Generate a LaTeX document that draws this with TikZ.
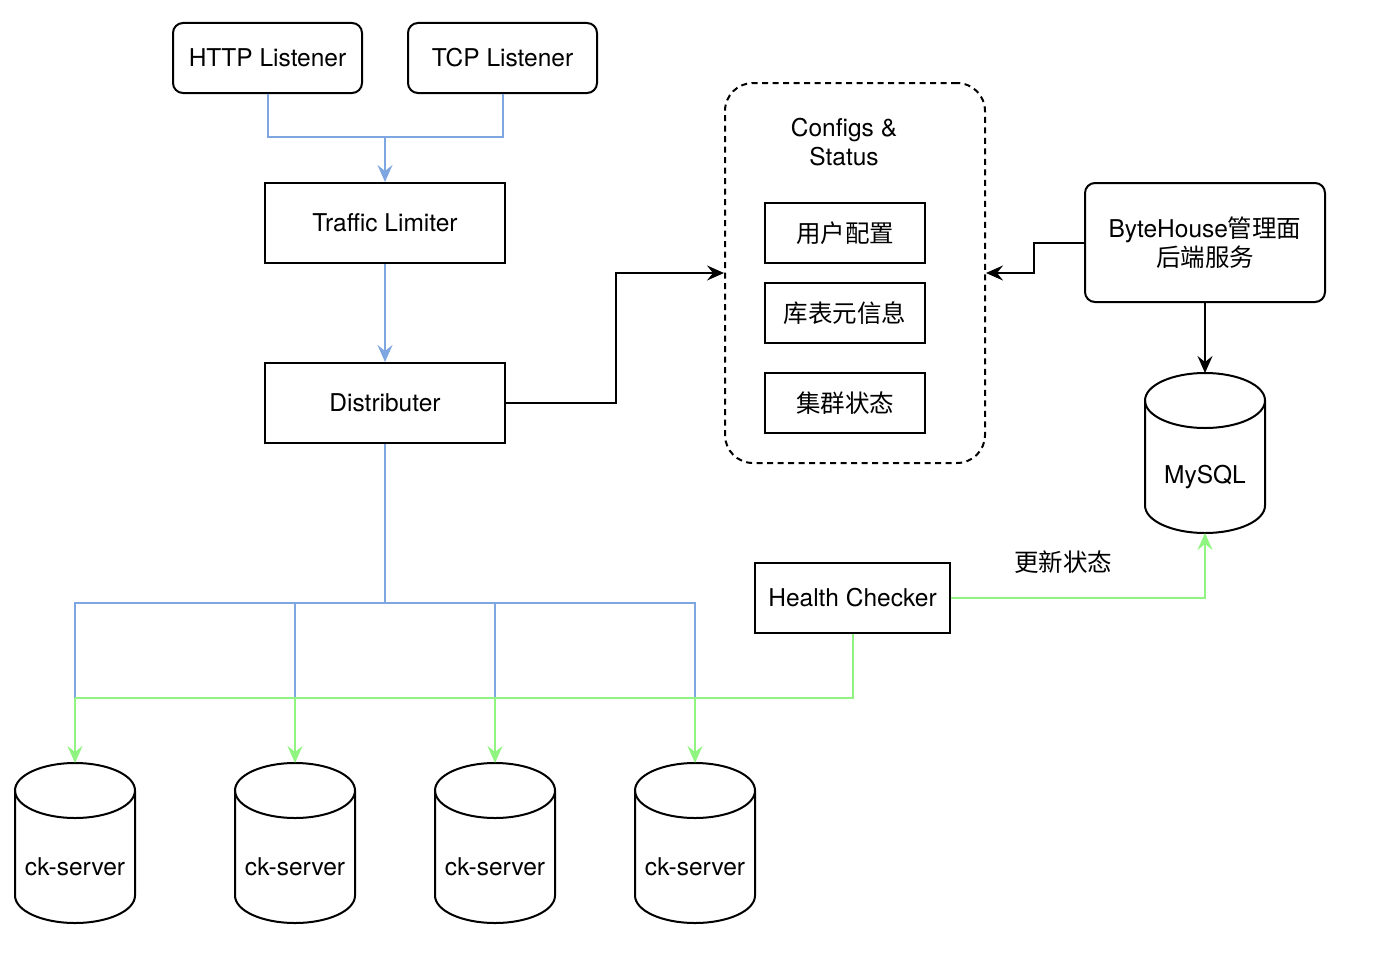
\documentclass[tikz,border=0pt]{standalone}
\usepackage{fontspec}
\setmainfont{TeX Gyre Heros}
\newfontfamily\cjk{Noto Sans CJK SC}
\usetikzlibrary{arrows.meta,calc}
\definecolor{blueline}{HTML}{7EA6E0}
\definecolor{greenline}{RGB}{144,245,128}
\begin{document}
\begin{tikzpicture}[x=1pt,y=-1pt,
  every node/.style={font=\fontsize{24.5}{29}\selectfont, align=center, inner sep=0pt},
  box/.style={draw, line width=2pt, minimum width=240pt, minimum height=80pt},
  rbox/.style={box, rounded corners=10pt},
  cbox/.style={draw, line width=2pt, minimum width=160pt, minimum height=60pt},
  tip/.style={-{Stealth[length=17pt,width=15pt,inset=6pt]}},
  bl/.style={draw=blueline, line width=2pt},
  gr/.style={draw=greenline, line width=2pt},
  bk/.style={draw=black, line width=2pt},
  db/.pic={
    \draw[line width=2pt] (0,-52.5) ellipse [x radius=60, y radius=27.5];
    \draw[line width=2pt] (-60,-52.5) -- (-60,52.5) .. controls (-60,67.7) and (-33.1,80) .. (0,80)
       .. controls (33.1,80) and (60,67.7) .. (60,52.5) -- (60,-52.5);
    \node (-lbl) at (0,24) {#1};
    \coordinate (-top) at (0,-80);
    \coordinate (-bot) at (0,80);
  }]
\useasboundingbox (0,0) rectangle (1388,974);

% top listeners
\node[rbox, minimum width=189pt, minimum height=70pt] (http) at (267.5,58) {HTTP Listener};
\node[rbox, minimum width=189pt, minimum height=70pt] (tcp) at (502.5,58) {TCP Listener};
\node[box] (tl) at (385,223) {Traffic Limiter};
\node[box] (dist) at (385,403) {Distributer};

% configs
\node[draw, line width=2pt, dash pattern=on 6pt off 4.5pt, rounded corners=28pt,
      minimum width=260pt, minimum height=380pt] (cfg) at (855,273) {};
\node (cfgt) at (844,142) {Configs \&\\Status};
\node[cbox] (uc) at (845,233) {\cjk 用户配置};
\node[cbox] (kb) at (845,313) {\cjk 库表元信息};
\node[cbox] (jq) at (845,403) {\cjk 集群状态};

% ByteHouse backend
\node[rbox, minimum height=119pt] (bh) at (1205,242.5) {ByteHouse{\cjk 管理面}\\{\cjk 后端服务}};

% databases
\pic (mysql) at (1205,453) {db={MySQL}};
\pic (ck1) at (75,843) {db={ck-server}};
\pic (ck2) at (295,843) {db={ck-server}};
\pic (ck3) at (495,843) {db={ck-server}};
\pic (ck4) at (695,843) {db={ck-server}};

\node[draw, line width=2pt, minimum width=195pt, minimum height=70pt] (hc) at (852.5,598) {Health Checker};
\node (upd) at (1063,562) {\cjk 更新状态};

% coordinates
\coordinate (j1) at (385,137);
\coordinate (j2) at (385,603);
\coordinate (gl) at (0,698);

% blue connectors
\draw[bl] (http.south) |- (j1);
\draw[bl] (tcp.south) |- (j1);
\draw[bl, tip] (j1) -- (tl.north);
\draw[bl, tip] (tl.south) -- (dist.north);
\draw[bl] (dist.south) -- (j2);
\foreach \i in {1,...,4} { \draw[bl] (j2) -| (ck\i-top |- gl); }

% green connectors
\draw[gr] (hc.south) |- (ck1-top |- gl);
\foreach \i in {1,...,4} { \draw[gr, tip] (ck\i-top |- gl) -- (ck\i-top); }
\draw[gr, tip] (hc.east) -| (mysql-bot);

% black connectors
\draw[bk, tip] (dist.east) -- ++(110,0) |- (cfg.west);
\draw[bk, tip] (bh.west) -- ++(-50,0) |- (cfg.east);
\draw[bk, tip] (bh.south) -- (mysql-top);
\end{tikzpicture}
\end{document}
